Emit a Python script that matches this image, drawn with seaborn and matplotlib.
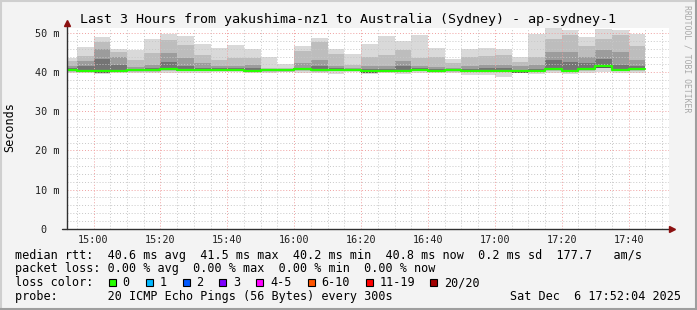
import numpy as np
import pandas as pd
import matplotlib
matplotlib.use("Agg")
import matplotlib.pyplot as plt
import matplotlib.dates as mdates
from matplotlib.patches import Rectangle
from matplotlib.lines import Line2D
import seaborn as sns

# ---------------- data ----------------
bar_start = pd.date_range("2025-12-06 14:50", periods=35, freq="5min")
ping_max = [43.6, 46.5, 49.0, 46.0, 45.7, 48.5, 49.8, 49.4, 47.2, 46.3, 47.0, 46.0,
            43.8, 42.0, 46.7, 48.7, 46.0, 44.7, 47.2, 49.3, 48.0, 49.5, 46.1, 43.4,
            46.0, 46.1, 46.0, 44.0, 49.7, 51.2, 50.7, 48.9, 51.1, 50.9, 49.7]
ping_p90 = [42.9, 44.2, 47.8, 45.2, 43.2, 44.9, 48.3, 47.0, 44.4, 43.2, 43.6, 43.6,
            41.0, 41.0, 45.4, 47.8, 44.6, 41.9, 44.0, 44.5, 45.7, 43.7, 43.9, 42.3,
            44.0, 44.2, 44.5, 42.7, 44.0, 48.6, 49.5, 46.6, 48.6, 49.5, 46.6]
ping_p75 = [41.7, 42.8, 45.9, 44.0, 41.3, 41.9, 44.9, 43.6, 42.3, 41.7, 41.5, 41.9,
            40.9, 40.8, 42.3, 43.2, 41.5, 41.2, 41.5, 41.5, 42.9, 41.5, 41.4, 41.0,
            41.5, 41.9, 41.9, 41.5, 41.9, 45.2, 45.2, 44.0, 45.6, 45.2, 43.2]
ping_p60 = [41.0, 41.5, 43.5, 41.9, 40.8, 41.0, 42.7, 41.5, 41.2, 41.0, 41.0, 41.0,
            40.7, 40.6, 41.2, 41.5, 41.0, 40.9, 40.8, 40.9, 41.5, 41.0, 40.9, 40.7,
            40.9, 41.0, 41.0, 40.6, 40.9, 43.1, 42.7, 42.3, 43.5, 41.9, 41.5]
median_rtt = [40.6, 40.4, 40.2, 40.4, 40.5, 40.5, 40.9, 40.7, 40.7, 40.7, 40.7, 40.4,
              40.5, 40.5, 40.8, 40.6, 40.7, 40.7, 40.2, 40.4, 40.4, 40.7, 40.4, 40.5,
              40.4, 40.4, 40.4, 40.2, 40.4, 40.9, 40.4, 40.85, 41.5, 40.7, 40.8]
ping_min = [39.8, 39.7, 39.5, 39.8, 39.9, 39.8, 39.7, 39.8, 39.9, 40.0, 40.0, 39.8,
            39.9, 40.1, 39.9, 39.8, 39.5, 40.0, 39.6, 39.7, 39.6, 39.9, 39.8, 39.9,
            39.3, 39.3, 38.9, 39.7, 39.6, 39.7, 39.5, 39.8, 40.0, 39.8, 39.8]

x_tick_labels = ["15:00", "15:20", "15:40", "16:00", "16:20", "16:40", "17:00", "17:20", "17:40"]
y_tick_values = [0, 10, 20, 30, 40, 50]
y_tick_labels = ["0  ", "10 m", "20 m", "30 m", "40 m", "50 m"]
loss_labels = ["0", "1", "2", "3", "4-5", "6-10", "11-19", "20/20"]
loss_colors = ["#26ff00", "#00b8ff", "#0059ff", "#7e00ff", "#ff00ff", "#ff5500", "#ff0000", "#a10000"]

title = "Last 3 Hours from yakushima-nz1 to Australia (Sydney) - ap-sydney-1"
row_median = "median rtt:  40.6 ms avg  41.5 ms max  40.2 ms min  40.8 ms now  0.2 ms sd  177.7   am/s"
row_loss = "packet loss: 0.00 % avg  0.00 % max  0.00 % min  0.00 % now"
row_probe = "probe:       20 ICMP Echo Pings (56 Bytes) every 300s"
stamp = "Sat Dec  6 17:52:04 2025"

# ---------------- style ----------------
sns.set_style("white")
plt.rcParams["font.family"] = ["DejaVu Sans Mono", "DejaVu Sans"]
BACK = "#f3f3f3"
W, H = 697, 310

fig = plt.figure(figsize=(W / 100, H / 100), dpi=100, facecolor=BACK)
L, R, T, B = 67, 669, 27.7, 228.7
ax = fig.add_axes([L / W, (H - B) / H, (R - L) / W, (B - T) / H])
ax.set_facecolor("white")

xe = list(bar_start) + [bar_start[-1] + pd.Timedelta("5min")]
def ext(a):
    a = list(a)
    return np.array(a + [a[-1]])

mx, p90, p75, p60, med, mn = map(ext, (ping_max, ping_p90, ping_p75, ping_p60, median_rtt, ping_min))
ax.fill_between(xe, mn, mx, step="post", color="#d9d9d9", lw=0, zorder=1)
ax.fill_between(xe, med - 0.45, p90, step="post", color="#bdbdbd", lw=0, zorder=1.1)
ax.fill_between(xe, med - 0.3, p75, step="post", color="#9c9c9c", lw=0, zorder=1.2)
ax.fill_between(xe, med - 0.2, p60, step="post", color="#747474", lw=0, zorder=1.3)
ax.fill_between(xe, med - 0.3, med + 0.2, step="post", color="#555555", lw=0, zorder=1.4)

dfm = pd.DataFrame({"t": xe, "median": med})
sns.lineplot(data=dfm, x="t", y="median", drawstyle="steps-post", color=loss_colors[0],
             lw=1.6, estimator=None, ax=ax, zorder=4)

t0 = pd.Timestamp("2025-12-06 14:52:04")
t1 = pd.Timestamp("2025-12-06 17:52:04")
ax.set_xlim(t0, t1)
ax.set_ylim(0, 51.4)

ax.xaxis.set_major_locator(mdates.MinuteLocator(byminute=[0, 20, 40]))
ax.xaxis.set_minor_locator(mdates.MinuteLocator(byminute=range(0, 60, 5)))
ax.xaxis.set_major_formatter(mdates.DateFormatter("%H:%M"))
ax.set_yticks(y_tick_values)
ax.set_yticklabels(y_tick_labels)
ax.set_yticks(np.arange(0, 52, 2), minor=True)
ax.tick_params(axis="both", which="both", length=0, labelsize=7.3, colors="#202020")
ax.tick_params(axis="x", pad=4.5)
ax.tick_params(axis="y", pad=5.5)
ax.grid(which="minor", color="#c8c8c8", lw=0.7, ls=(0, (1, 2)), zorder=2)
ax.grid(which="major", color="#f0a0a0", lw=0.7, ls=(0, (1, 2)), zorder=2)
ax.set_axisbelow(False)
for s in ax.spines.values():
    s.set_visible(False)
ax.set_xlabel("")
ax.set_ylabel("")

# axis lines with arrows
ax.plot([-5 / (R - L), 1.0], [0, 0], transform=ax.transAxes, color="#303030", lw=1.0, clip_on=False, zorder=5)
ax.plot([0, 0], [0, 1.02], transform=ax.transAxes, color="#303030", lw=1.0, clip_on=False, zorder=5)
ax.plot([1.0 + 3 / (R - L)], [0], marker=">", ms=5, color="#8b1010", transform=ax.transAxes, clip_on=False, zorder=6)
ax.plot([0], [1.0 + 4.5 / (B - T)], marker="^", ms=5, color="#8b1010", transform=ax.transAxes, clip_on=False, zorder=6)

# texts
fs = 8.5
def ftext(x, y, s, **kw):
    kw.setdefault("fontsize", fs)
    kw.setdefault("color", "#000000")
    fig.text(x / W, 1 - y / H, s, **kw)

ftext(347.5, 19.5, title, ha="center", va="center", fontsize=9.6)
ftext(10, 127.5, "Seconds", ha="center", va="center", rotation=90)
ftext(687, 59, "RRDTOOL / TOBI OETIKER", ha="center", va="center", rotation=270,
      fontsize=5.9, color="#a8a8a8")
ftext(15, 255, row_median, va="center")
ftext(15, 268.5, row_loss, va="center")
ftext(15, 282.5, "loss color:", va="center")
ftext(15, 296.5, row_probe, va="center")
ftext(681, 296.5, stamp, va="center", ha="right")

box_x = [108.7, 145.7, 183, 219.3, 256.3, 307.7, 366, 430.3]
lab_x = [122.5, 159.5, 196, 233.5, 270.5, 321, 379.5, 444.5]
for bx, lx, lab, col in zip(box_x, lab_x, loss_labels, loss_colors):
    fig.patches.append(Rectangle((bx / W, 1 - (282.5 + 3.5) / H), 7 / W, 7 / H,
                                 transform=fig.transFigure, facecolor=col,
                                 edgecolor="black", lw=0.8))
    ftext(lx, 282.5, lab, va="center")

# 3D frame
fig.add_artist(Line2D([0, 1], [1 - 0.5 / H, 1 - 0.5 / H], transform=fig.transFigure, color="#cfcfcf", lw=1.5))
fig.add_artist(Line2D([0.5 / W, 0.5 / W], [0, 1], transform=fig.transFigure, color="#cfcfcf", lw=1.5))
fig.add_artist(Line2D([0, 1], [0.6 / H, 0.6 / H], transform=fig.transFigure, color="#9e9e9e", lw=1.5))
fig.add_artist(Line2D([1 - 0.6 / W, 1 - 0.6 / W], [0, 1], transform=fig.transFigure, color="#9e9e9e", lw=1.5))

fig.savefig("out.png", dpi=100, facecolor=BACK)
